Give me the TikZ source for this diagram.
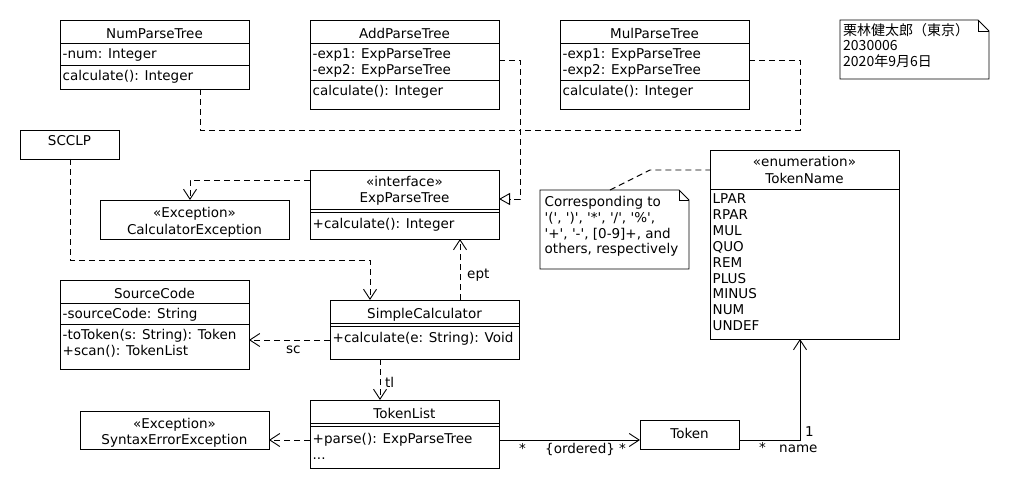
\documentclass[tikz,border=0pt]{standalone}
\usepackage{fontspec}
\setmainfont{DejaVu Sans}
\newfontfamily\cjk{Noto Sans CJK JP}
\usetikzlibrary{arrows.meta,calc}
\newcommand\myq{\textquotesingle}
\begin{document}
\begin{tikzpicture}[x=1pt,y=-1pt,
  lw/.style={line width=0.9pt},
  box/.style={draw, line width=0.9pt, anchor=north west, inner sep=0pt, outer sep=0pt},
  ghost/.style={anchor=north west, inner sep=0pt, outer sep=0pt},
  txt/.style={font=\fontsize{13.5}{15.5}\selectfont, inner sep=0pt, anchor=base west},
  ttl/.style={txt, anchor=base},
  memotxt/.style={txt, font=\cjk\fontsize{14}{15.5}\selectfont},
  dashln/.style={line width=0.9pt, dash pattern=on 6pt off 4pt},
  dep/.style={dashln, -{Straight Barb[length=10pt,width=13pt]}},
  assoc/.style={line width=0.9pt, -{Straight Barb[length=10pt,width=13pt]}},
  realz/.style={dashln, -{Triangle[open,length=11pt,width=12pt]}}
]
\useasboundingbox (0,0) rectangle (1010,500);

% ---------- NumParseTree
\node[box, minimum width=189pt, minimum height=69pt] (num) at (60,20) {};
\draw[lw] (60,43) -- (249,43) (60,65) -- (249,65);
\node[ttl] (numT) at (154.5,38.5) {NumParseTree};
\node[txt] (numA) at (62.5,59) {-num: Integer};
\node[txt] (numO) at (62.5,80.5) {calculate(): Integer};

% ---------- AddParseTree
\node[box, minimum width=189pt, minimum height=89pt] (add) at (310,20) {};
\draw[lw] (310,43) -- (499,43) (310,80) -- (499,80);
\node[ttl] (addT) at (404.5,38.5) {AddParseTree};
\node[txt] (addA1) at (312.5,59) {-exp1: ExpParseTree};
\node[txt] (addA2) at (312.5,74.5) {-exp2: ExpParseTree};
\node[txt] (addO) at (312.5,95.5) {calculate(): Integer};

% ---------- MulParseTree
\node[box, minimum width=189pt, minimum height=89pt] (mul) at (560,20) {};
\draw[lw] (560,43) -- (749,43) (560,80) -- (749,80);
\node[ttl] (mulT) at (654.5,38.5) {MulParseTree};
\node[txt] (mulA1) at (562.5,59) {-exp1: ExpParseTree};
\node[txt] (mulA2) at (562.5,74.5) {-exp2: ExpParseTree};
\node[txt] (mulO) at (562.5,95.5) {calculate(): Integer};

% ---------- memo note
\node[ghost, minimum width=149pt, minimum height=59pt] (memo) at (840,20) {};
\draw[lw] (memo.north west) -- ($(memo.north east)+(-11,0)$) -- ($(memo.north east)+(0,11)$) -- (memo.south east) -- (memo.south west) -- cycle;
\draw[lw] ($(memo.north east)+(-11,0)$) -- ($(memo.north east)+(-11,11)$) -- ($(memo.north east)+(0,11)$);
\node[memotxt] (memo1) at (843,35.5) {栗林健太郎（東京）};
\node[memotxt] (memo2) at (843,51) {2030006};
\node[memotxt] (memo3) at (843,66.5) {2020年9月6日};

% ---------- SCCLP
\node[box, minimum width=99pt, minimum height=29pt] (scclp) at (20,130) {};
\node[ttl] (scclpT) at (69.5,146) {SCCLP};

% ---------- CalculatorException
\node[box, minimum width=189pt, minimum height=39pt] (calcex) at (100,200) {};
\node[ttl] (calcexS) at (194.5,218) {«Exception»};
\node[ttl] (calcexT) at (194.5,234) {CalculatorException};

% ---------- ExpParseTree
\node[box, minimum width=189pt, minimum height=69pt] (exp) at (310,170) {};
\draw[lw] (310,209) -- (499,209) (310,212) -- (499,212);
\node[ttl] (expS) at (404.5,186.5) {«interface»};
\node[ttl] (expT) at (404.5,203) {ExpParseTree};
\node[txt] (expO) at (312.5,228.5) {+calculate(): Integer};

% ---------- SourceCode
\node[box, minimum width=189pt, minimum height=89pt] (source) at (60,280) {};
\draw[lw] (60,303) -- (249,303) (60,324) -- (249,324);
\node[ttl] (sourceT) at (154.5,298.5) {SourceCode};
\node[txt] (sourceA) at (62.5,318.5) {-sourceCode: String};
\node[txt] (sourceO1) at (62.5,339.5) {-toToken(s: String): Token};
\node[txt] (sourceO2) at (62.5,355) {+scan(): TokenList};

% ---------- SimpleCalculator
\node[box, minimum width=189pt, minimum height=59pt] (simple) at (330,300) {};
\draw[lw] (330,323) -- (519,323) (330,326) -- (519,326);
\node[ttl] (simpleT) at (424.5,318.5) {SimpleCalculator};
\node[txt] (simpleO) at (332.5,342.5) {+calculate(e: String): Void};

% ---------- TokenName
\node[box, minimum width=189pt, minimum height=189pt] (tname) at (710,150) {};
\draw[lw] (710,189) -- (899,189);
\node[ttl] (tnameS) at (804.5,167) {«enumeration»};
\node[ttl] (tnameT) at (804.5,183) {TokenName};
\foreach \s [count=\i from 0] in {LPAR,RPAR,MUL,QUO,REM,PLUS,MINUS,NUM,UNDEF}
  \node[txt] (ev\i) at (712.5,{204+15.8*\i}) {\s};

% ---------- comment note
\node[ghost, minimum width=149pt, minimum height=79pt] (note) at (540,190) {};
\draw[lw] (note.north west) -- ($(note.north east)+(-10,0)$) -- ($(note.north east)+(0,10)$) -- (note.south east) -- (note.south west) -- cycle;
\draw[lw] ($(note.north east)+(-10,0)$) -- ($(note.north east)+(-10,10)$) -- ($(note.north east)+(0,10)$);
\node[txt] (note1) at (544.5,207) {Corresponding to};
\node[txt] (note2) at (544.5,222.6) {\myq(\myq, \myq)\myq, \myq*\myq, \myq/\myq, \myq\%\myq,};
\node[txt] (note3) at (544.5,238.2) {\myq+\myq, \myq-\myq, [0-9]+, and};
\node[txt] (note4) at (544.5,253.8) {others, respectively};

% ---------- TokenList
\node[box, minimum width=189pt, minimum height=68pt] (tlist) at (310,400) {};
\draw[lw] (310,423) -- (499,423) (310,426) -- (499,426);
\node[ttl] (tlistT) at (404.5,418.5) {TokenList};
\node[txt] (tlistO1) at (312.5,443) {+parse(): ExpParseTree};
\node[txt] (tlistO2) at (312.5,459) {...};

% ---------- SyntaxErrorException
\node[box, minimum width=189pt, minimum height=38pt] (syn) at (80,411) {};
\node[ttl] (synS) at (174.5,428) {«Exception»};
\node[ttl] (synT) at (174.5,444) {SyntaxErrorException};

% ---------- Token
\node[box, minimum width=99pt, minimum height=29pt] (token) at (640,420) {};
\node[ttl] (tokenT) at (689.5,438.5) {Token};

% ---------- bend points
\coordinate (j1) at (520,130);
\coordinate (j2) at (520,199);
\coordinate (m1) at (800,130);
\coordinate (c1) at (370,260);
\coordinate (n1) at (650,170);

% ---------- realizations
\draw[dashln] ($(num.south west)+(140,0)$) |- (j1);
\draw[dashln] ($(mul.north east)+(0,40)$) -| (m1) -- (j1);
\draw[realz] ($(add.north east)+(0,40)$) -| (j2) -- ($(exp.north east)+(0,29)$);

% ---------- dependencies
\draw[dep] ($(exp.north west)+(0,10)$) -| ($(calcex.north west)+(90,0)$);
\draw[dep] ($(scclp.south west)+(50,0)$) |- (c1) -- ($(simple.north west)+(40,0)$);
\draw[dep] ($(simple.north west)+(130,0)$) -- ($(exp.south west)+(150,0)$);
\draw[dep] ($(simple.north west)+(0,40)$) -- ($(source.north east)+(0,60)$);
\draw[dep] ($(simple.south west)+(50,0)$) -- ($(tlist.north west)+(70,0)$);
\draw[dep] ($(tlist.north west)+(0,40)$) -- ($(syn.north east)+(0,29)$);
\draw[dashln] ($(note.north west)+(70,0)$) -- (n1) -- ($(tname.north west)+(0,20)$);

% ---------- associations
\draw[assoc] ($(tlist.north east)+(0,40)$) -- ($(token.north west)+(0,20)$);
\draw[assoc] ($(token.north east)+(0,20)$) -| ($(tname.south west)+(90,0)$);

% ---------- connector labels
\node[txt] (lept) at (467,278) {ept};
\node[txt] (lsc) at (286,353) {sc};
\node[txt] (ltl) at (385,387) {tl};
\node[txt] (lm1) at (519,453) {*};
\node[txt] (lm2) at (545,453) {\{ordered\} *};
\node[txt] (lm3) at (759,452) {*};
\node[txt] (lname) at (779,452) {name};
\node[txt] (lone) at (805,436) {1};
\end{tikzpicture}
\end{document}
